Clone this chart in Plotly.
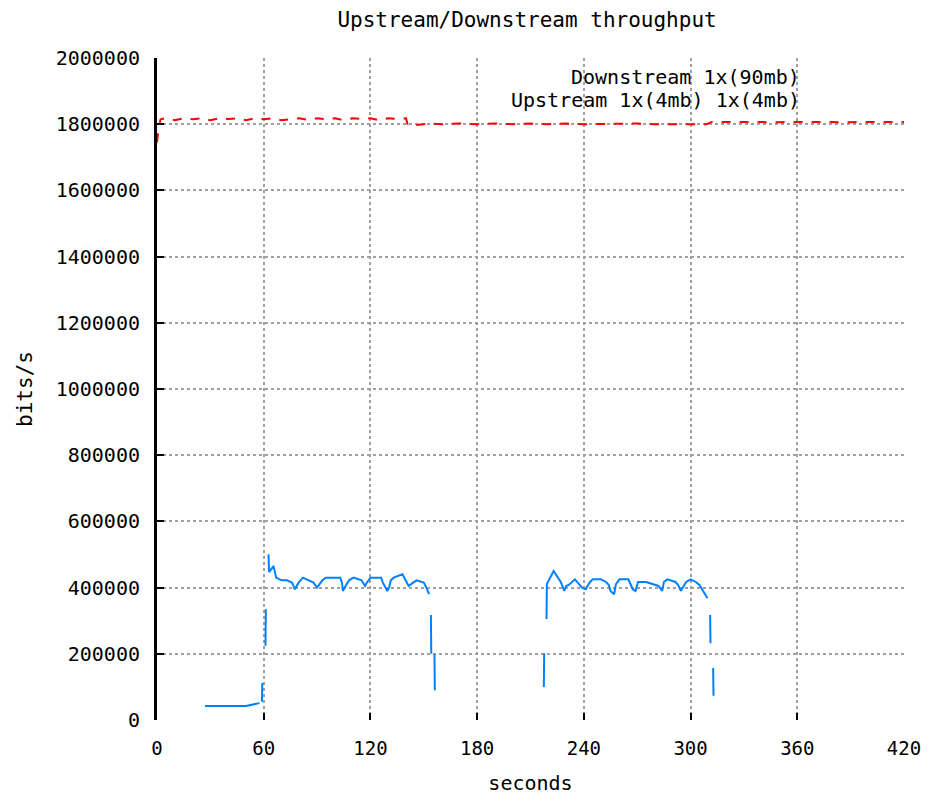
import plotly.graph_objects as go

# ---- data ----
down_t = [0, 1, 2, 5, 10, 15, 20, 25, 30, 35, 40, 45, 50, 55, 60, 65, 70, 75, 80, 85, 90, 95, 100,
          105, 110, 115, 120, 125, 130, 135, 140, 141, 145, 150, 155, 160, 170, 180, 190, 200, 210,
          220, 230, 240, 250, 260, 270, 280, 290, 300, 309, 312, 320, 330, 340, 350, 360, 370, 380,
          390, 400, 410, 420]
down_v = [1745000, 1790000, 1815000, 1818000, 1812000, 1818000, 1815000, 1818000, 1812000, 1818000,
          1816000, 1818000, 1812000, 1818000, 1815000, 1818000, 1812000, 1816000, 1818000, 1813000,
          1818000, 1815000, 1818000, 1812000, 1818000, 1816000, 1818000, 1812000, 1818000, 1816000,
          1818000, 1797000, 1797000, 1800000, 1802000, 1800000, 1802000, 1800000, 1802000, 1800000,
          1802000, 1800000, 1802000, 1800000, 1801000, 1800000, 1802000, 1800000, 1801000, 1800000,
          1800000, 1807000, 1807000, 1806000, 1807000, 1806000, 1807000, 1806000, 1807000, 1806000,
          1807000, 1806000, 1807000]

up_t = [27, 35, 43, 50, 57.6, None, 59, 59.2, None, 61, 61.2, None, 62.7, 63, 65.5, 67, 70, 73, 76,
        77.5, 79.6, 81, 82, 88, 90, 93, 95, 98, 103, 104, 104.5, 106, 108, 110.5, 115, 117, 118, 120,
        126, 127, 129.5, 130.5, 131.5, 133, 138, 139.5, 141.5, 144, 146, 150, 151, 153, None, 154,
        154.2, None, 156, 156.2, None, 217.5, 217.7, None, 219, 219.2, 223, 225, 227, 229, 230, 231.5,
        235, 239, 241, 243.5, 245, 249.5, 252.5, 254, 255, 257, 258, 260, 265, 267.5, 269, 270.5,
        275, 282, 284, 285, 287, 291.5, 293, 294.5, 296, 297.5, 300, 303, 305, 306.5, 309.5, None,
        311, 311.2, None, 312.7, 312.9]
up_v = [42000, 42000, 42000, 42000, 51000, None, 55000, 112000, None, 224000, 335000, None, 501000,
        447000, 465000, 430000, 422000, 422000, 415000, 395000, 415000, 422000, 430000, 415000,
        400000, 422000, 430000, 430000, 430000, 415000, 390000, 405000, 422000, 430000, 422000,
        405000, 415000, 430000, 430000, 415000, 390000, 400000, 422000, 430000, 440000, 425000,
        405000, 415000, 422000, 415000, 405000, 380000, None, 317000, 200000, None, 200000, 90000,
        None, 100000, 202000, None, 305000, 411000, 450000, 435000, 417000, 390000, 405000, 408000,
        425000, 400000, 395000, 417000, 425000, 425000, 417000, 408000, 390000, 380000, 410000,
        425000, 425000, 395000, 390000, 417000, 417000, 405000, 390000, 417000, 425000, 417000,
        408000, 390000, 402000, 417000, 425000, 417000, 408000, 395000, 368000, None, 317000,
        232000, None, 157000, 73000]

x_ticks = [0, 60, 120, 180, 240, 300, 360, 420]
y_ticks = [0, 200000, 400000, 600000, 800000, 1000000, 1200000, 1400000, 1600000, 1800000, 2000000]

title_text = "Upstream/Downstream throughput"
legend_down = "Downstream 1x(90mb)"
legend_up = "Upstream 1x(4mb) 1x(4mb)"

FONT = "DejaVu Sans Mono"

fig = go.Figure()
fig.add_trace(go.Scatter(x=down_t, y=down_v, mode="lines", name=legend_down,
                         line=dict(color="#ff0000", width=2, dash="dash"), showlegend=False))
fig.add_trace(go.Scatter(x=up_t, y=up_v, mode="lines", name=legend_up, connectgaps=False,
                         line=dict(color="#0080ff", width=2), showlegend=False))

# legend text (gnuplot-style key, right aligned, no visible samples)
fig.add_annotation(x=1.0, xref="paper", xanchor="right", y=1.0, yref="paper",
                   yanchor="middle", yshift=-19, xshift=-102, text=legend_down, showarrow=False,
                   font=dict(family=FONT, size=20, color="black"))
fig.add_annotation(x=1.0, xref="paper", xanchor="right", y=1.0, yref="paper",
                   yanchor="middle", yshift=-42, xshift=-102, text=legend_up, showarrow=False,
                   font=dict(family=FONT, size=20, color="black"))

fig.update_layout(
    width=948, height=794,
    paper_bgcolor="white", plot_bgcolor="white",
    margin=dict(l=149, r=52, t=50, b=77),
    title=dict(text=title_text, x=0.5475, xanchor="center", y=0.985, yanchor="middle",
               font=dict(family=FONT, size=21, color="black")),
    font=dict(family=FONT, color="black"),
)
fig.update_xaxes(
    range=[0, 420], tickvals=x_ticks, ticktext=[str(v) for v in x_ticks],
    showline=False, zeroline=False, showgrid=True, gridcolor="#a0a0a0", griddash="dot", gridwidth=1.5,
    ticks="inside", ticklen=7, tickcolor="#000000", tickwidth=2,
    tickfont=dict(family=FONT, size=19), ticklabelstandoff=15,
    title=dict(text="seconds", font=dict(family=FONT, size=20), standoff=17),
)
fig.update_yaxes(
    range=[0, 2000000], tickvals=y_ticks, ticktext=[str(v) for v in y_ticks],
    showline=True, linecolor="black", linewidth=3, zeroline=False,
    showgrid=True, gridcolor="#a0a0a0", griddash="dot", gridwidth=1.5,
    ticks="inside", ticklen=7, tickcolor="#000000", tickwidth=2,
    tickfont=dict(family=FONT, size=20), ticklabelstandoff=10,
    title=dict(text="bits/s", font=dict(family=FONT, size=21), standoff=18),
)

fig.write_html("out.html")
